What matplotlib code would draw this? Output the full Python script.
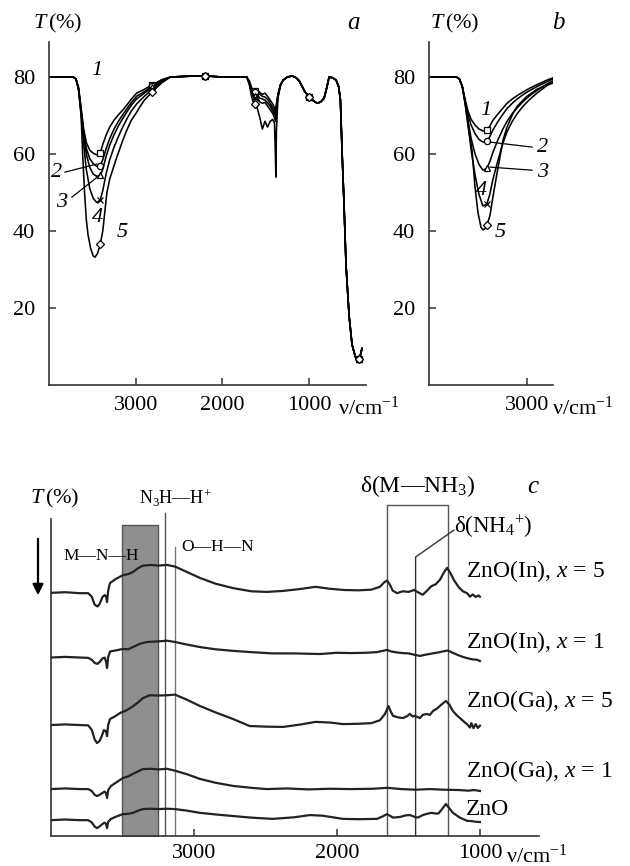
import numpy as np
import matplotlib
matplotlib.use("Agg")
import matplotlib.pyplot as plt

plt.rcParams['font.family'] = ['Liberation Serif', 'DejaVu Serif']
plt.rcParams['mathtext.fontset'] = 'custom'
plt.rcParams['mathtext.rm'] = 'Liberation Serif'
plt.rcParams['mathtext.it'] = 'Liberation Serif:italic'
plt.rcParams['mathtext.bf'] = 'Liberation Serif:bold'

#%% DATA
# panel a: transmission T(%) vs wavenumber, five samples
dip_wn = [4000, 3720, 3690, 3660, 3630, 3600, 3570, 3530, 3490, 3450, 3410, 3380,
          3340, 3300, 3250, 3200, 3150, 3100, 3050, 2990, 2900, 2810, 2700, 2600]
dip_T1 = [80, 80, 79.5, 77.5, 72.0, 66.5, 63.0, 61.0, 60.2, 59.8, 60.3, 62.5,
          65.0, 67.0, 68.8, 70.2, 71.4, 72.8, 74.3, 75.8, 76.8, 78.0, 79.3, 80]
dip_T2 = [80, 80, 79.5, 77.0, 71.5, 65.5, 61.5, 58.8, 57.5, 56.8, 57.0, 58.5,
          61.5, 64.0, 66.5, 68.5, 70.2, 71.8, 73.4, 75.0, 76.2, 77.6, 79.2, 80]
dip_T3 = [80, 80, 79.5, 77.0, 71.0, 64.5, 60.0, 56.5, 54.8, 54.2, 54.5, 56.0,
          59.5, 62.3, 65.0, 67.3, 69.2, 71.0, 72.7, 74.3, 75.8, 77.3, 79.0, 80]
dip_T4 = [80, 80, 79.5, 77.0, 70.5, 62.5, 56.0, 51.0, 48.5, 47.4, 48.0, 50.5,
          55.0, 58.5, 61.8, 64.5, 67.0, 69.2, 71.2, 73.0, 75.0, 76.8, 78.8, 80]
dip_wn5 = [4000, 3720, 3690, 3660, 3630, 3610, 3590, 3570, 3550, 3520, 3490, 3470,
           3440, 3410, 3380, 3333, 3300, 3250, 3218, 3150, 3103, 3050, 2990, 2954,
           2900, 2810, 2700, 2600]
dip_T5 = [80, 80, 79.5, 77.0, 70.0, 59.0, 50.0, 43.0, 39.0, 35.5, 33.5, 33.2,
          34.2, 36.5, 40.0, 49.9, 53.5, 57.0, 59.2, 63.5, 66.2, 68.8, 70.8, 72.2,
          74.0, 76.1, 78.5, 80]

tail_hi_wn = [2400, 2200, 2000, 1800, 1720]
tail_hi_T = [80.2, 80.3, 80.0, 80.0, 80.0]

jag_wn = [1690, 1660, 1630, 1600, 1570, 1540, 1510, 1480, 1450, 1420, 1400, 1390,
          1384, 1378, 1360, 1330]
jag_T = [
    [79.0, 77.0, 76.5, 76.8, 76.0, 75.5, 75.8, 75.0, 74.0, 73.0, 72.0, 71.0, 71.5, 73.0, 75.5, 78.0],
    [78.8, 76.5, 76.0, 76.0, 75.5, 75.0, 74.8, 74.2, 73.2, 72.0, 71.0, 70.5, 70.5, 72.5, 75.5, 78.0],
    [78.5, 76.0, 75.2, 75.5, 74.5, 74.3, 74.0, 73.3, 72.5, 71.2, 70.3, 69.8, 69.5, 72.0, 75.0, 78.0],
    [78.3, 75.5, 74.5, 74.8, 73.5, 73.2, 73.4, 72.5, 71.5, 70.5, 69.5, 68.5, 68.5, 71.5, 75.0, 78.0],
    [78.0, 74.5, 73.0, 72.0, 69.5, 66.5, 68.5, 67.0, 68.5, 69.0, 68.0, 60.0, 54.0, 66.0, 74.5, 78.0],
]

tail_lo_wn = [1300, 1250, 1195, 1150, 1115, 1080, 1050, 1000, 950, 908, 870, 828,
              800, 770, 730, 690, 660, 640, 620, 600, 575, 540, 506, 470, 448, 420, 391]
tail_lo_T = [79.2, 80.0, 80.3, 79.8, 79.0, 77.5, 76.2, 74.8, 73.8, 73.2, 73.5, 74.5,
             77.0, 80.0, 79.8, 79.2, 77.5, 74.0, 60.0, 48.0, 31.0, 18.0, 10.5, 7.5, 6.2, 6.8, 9.5]

marker_wn_a = [3410, 2810, 2200, 1630, 1000, 420]

# panel b: the N-H region on a wider scale
b_wn = [4000, 3720, 3690, 3660, 3630, 3600, 3570, 3530, 3490, 3450, 3410, 3380,
        3347, 3300, 3250, 3204, 3150, 3100, 3041, 2980, 2900, 2796, 2735]
b_T1 = [80, 80, 79.5, 77.5, 74.0, 71.0, 69.0, 67.5, 66.5, 66.0, 66.2, 67.2,
        68.8, 70.3, 71.8, 73.2, 74.3, 75.2, 76.1, 77.0, 78.0, 79.2, 79.8]
b_T2 = [80, 80, 79.5, 77.5, 73.5, 70.0, 67.5, 65.3, 63.8, 63.1, 63.3, 64.5,
        66.3, 68.3, 70.2, 71.8, 73.2, 74.3, 75.4, 76.4, 77.5, 78.8, 79.5]
b_T3 = [80, 80, 79.5, 77.5, 73.3, 68.5, 64.0, 60.0, 57.3, 55.8, 56.3, 58.0,
        60.5, 63.5, 66.3, 68.5, 70.5, 72.0, 73.6, 75.0, 76.5, 78.2, 79.0]
b_T4 = [80, 80, 79.5, 77.5, 73.0, 67.5, 61.0, 54.5, 49.5, 46.5, 47.0, 49.5,
        53.5, 58.0, 62.5, 65.8, 68.5, 70.5, 72.4, 74.0, 75.8, 77.8, 78.6]
b_wn5 = [4000, 3720, 3690, 3660, 3630, 3600, 3561, 3531, 3500, 3470, 3449, 3420,
         3410, 3378, 3347, 3306, 3245, 3204, 3143, 3100, 3041, 3000, 2900, 2796, 2735]
b_T5 = [80, 80, 79.5, 77.5, 72.8, 67.0, 61.0, 51.5, 44.7, 41.0, 40.3, 40.8,
        41.5, 44.0, 49.0, 55.0, 63.6, 67.0, 70.6, 72.4, 74.0, 75.0, 76.8, 78.0, 78.4]

marker_wn_b = [3410]

# panel c: difference spectra, arbitrary offsets
c_names = ['ZnO(In), $x$ = 5', 'ZnO(In), $x$ = 1', 'ZnO(Ga), $x$ = 5',
           'ZnO(Ga), $x$ = 1', 'ZnO']
in5_wn = [4000, 3900, 3800, 3740, 3715, 3695, 3675, 3660, 3640, 3625, 3615, 3608,
          3600, 3587, 3550, 3497, 3460, 3427, 3390, 3357, 3300, 3250, 3189, 3133,
          3050, 2958, 2850, 2727, 2600, 2490, 2380, 2259, 2150, 2050, 1950, 1850,
          1760, 1700, 1670, 1650, 1630, 1610, 1580, 1540, 1500, 1460, 1430, 1400,
          1370, 1340, 1310, 1280, 1250, 1230, 1210, 1180, 1150, 1120, 1090, 1070,
          1050, 1030, 1010, 1000]
in5_u = [76.7, 76.9, 76.6, 76.6, 75.5, 73.0, 72.4, 73.2, 75.4, 76.0, 75.6, 73.8,
         77.5, 79.8, 81.0, 82.3, 82.6, 83.3, 84.5, 85.3, 85.5, 85.3, 85.5, 85.0,
         83.3, 81.4, 79.6, 78.2, 77.2, 77.0, 77.3, 77.9, 78.6, 78.0, 77.6, 77.5,
         77.7, 78.6, 80.0, 80.6, 79.3, 77.4, 76.6, 77.2, 77.0, 77.6, 76.8, 76.1,
         77.4, 78.8, 79.4, 80.8, 83.3, 84.6, 83.2, 80.6, 78.6, 77.2, 76.6, 75.5,
         76.2, 75.4, 75.9, 75.5]

in1_wn = [4000, 3900, 3800, 3740, 3715, 3695, 3675, 3660, 3640, 3625, 3615, 3608,
          3600, 3587, 3540, 3497, 3460, 3427, 3380, 3329, 3250, 3189, 3133, 3050,
          2958, 2850, 2727, 2600, 2450, 2300, 2119, 2000, 1900, 1800, 1720, 1680,
          1650, 1620, 1580, 1540, 1500, 1460, 1420, 1380, 1330, 1280, 1240, 1225,
          1200, 1160, 1120, 1080, 1050, 1020, 1000]
in1_u = [56.3, 56.5, 56.3, 56.2, 55.6, 54.6, 54.3, 54.9, 56.0, 56.3, 55.0, 53.0,
         56.5, 58.2, 58.6, 59.0, 58.9, 59.6, 60.6, 61.2, 61.4, 61.6, 61.2, 60.4,
         59.6, 58.9, 58.4, 58.0, 57.6, 57.6, 57.4, 57.8, 57.7, 57.8, 58.0, 58.4,
         58.7, 58.2, 57.9, 57.7, 57.6, 57.2, 56.8, 57.2, 57.6, 58.0, 58.4, 58.5,
         58.0, 57.2, 56.5, 56.0, 55.7, 55.6, 55.2]

ga5_wn = [4000, 3900, 3800, 3740, 3715, 3695, 3678, 3660, 3645, 3630, 3615, 3608,
          3600, 3587, 3550, 3517, 3470, 3427, 3390, 3357, 3310, 3250, 3189, 3133,
          3050, 2958, 2850, 2727, 2611, 2500, 2378, 2250, 2150, 2050, 1958, 1850,
          1760, 1700, 1664, 1640, 1625, 1608, 1570, 1538, 1510, 1490, 1470, 1455,
          1420, 1400, 1374, 1350, 1329, 1300, 1281, 1255, 1238, 1215, 1189, 1160,
          1140, 1110, 1091, 1070, 1060, 1045, 1030, 1015, 1000]
ga5_u = [35.0, 35.2, 35.0, 34.9, 33.5, 30.5, 29.3, 30.0, 31.5, 33.4, 33.0, 31.5,
         35.0, 36.9, 37.8, 38.8, 39.7, 40.9, 42.2, 43.5, 44.4, 44.3, 44.4, 44.6,
         43.0, 41.0, 39.0, 36.9, 34.7, 34.5, 34.4, 35.2, 36.0, 35.8, 35.3, 35.4,
         35.6, 36.5, 38.5, 41.0, 39.4, 37.9, 37.4, 37.2, 37.8, 38.5, 37.7, 37.9,
         37.2, 38.2, 38.5, 38.2, 39.4, 40.2, 41.0, 42.0, 42.6, 41.5, 39.4, 38.0,
         37.2, 36.0, 35.3, 34.2, 35.6, 34.0, 35.3, 34.1, 34.8]

ga1_wn = [4000, 3900, 3800, 3740, 3715, 3695, 3678, 3660, 3640, 3625, 3615, 3608,
          3600, 3580, 3540, 3497, 3460, 3427, 3390, 3357, 3300, 3250, 3189, 3133,
          3050, 2958, 2850, 2727, 2600, 2490, 2350, 2200, 2050, 1900, 1750, 1650,
          1550, 1450, 1350, 1250, 1150, 1080, 1040, 1000]
ga1_u = [14.8, 15.0, 14.8, 14.8, 14.2, 13.0, 12.6, 13.0, 13.6, 14.0, 13.5, 12.0,
         14.5, 15.8, 17.0, 18.3, 18.8, 19.6, 20.4, 21.1, 21.2, 21.0, 21.2, 20.6,
         19.5, 18.0, 16.8, 15.8, 15.2, 14.8, 15.0, 14.7, 14.9, 14.8, 14.9, 15.2,
         14.8, 14.6, 14.8, 14.6, 14.5, 14.3, 14.5, 14.2]

zno_wn = [4000, 3900, 3800, 3740, 3715, 3695, 3678, 3660, 3640, 3625, 3615, 3608,
          3600, 3580, 3540, 3497, 3460, 3427, 3390, 3357, 3300, 3250, 3189, 3133,
          3050, 2958, 2850, 2727, 2600, 2450, 2300, 2189, 2100, 1958, 1850, 1720,
          1680, 1650, 1630, 1608, 1560, 1520, 1490, 1460, 1440, 1420, 1400, 1370,
          1340, 1310, 1290, 1265, 1238, 1215, 1189, 1160, 1140, 1110, 1091, 1060,
          1030, 1000]
zno_u = [5.0, 5.2, 5.0, 5.0, 4.3, 3.0, 2.5, 3.0, 3.8, 4.2, 3.8, 2.5,
         4.5, 5.4, 6.2, 6.9, 7.0, 7.3, 8.0, 8.5, 8.6, 8.5, 8.6, 8.5,
         8.0, 7.3, 6.8, 6.3, 5.8, 5.4, 5.9, 6.6, 6.4, 5.4, 5.3, 5.4,
         6.2, 6.9, 6.4, 5.8, 6.0, 6.5, 6.6, 6.1, 5.8, 6.1, 6.6, 7.0,
         7.3, 7.1, 7.1, 8.5, 10.1, 8.8, 7.3, 6.4, 5.8, 5.2, 4.8, 4.7,
         4.5, 4.4]

c_label_u = [83.6, 61.2, 42.6, 20.5, 8.5]

# band assignments
mnh_band = (3500, 3250)
n3h_wn, ohn_wn = 3200, 3130
delta_box = (1650, 1225)
nh4_wn = 1450

#%% PLOT
W, H = 630, 866
fig = plt.figure(figsize=(W / 100, H / 100), dpi=100)

def px_axes(x0, y0, x1, y1):
    return fig.add_axes([x0 / W, 1 - y1 / H, (x1 - x0) / W, (y1 - y0) / H])

def style_axes(ax, xpad, ypad):
    for s in ('top', 'right'):
        ax.spines[s].set_visible(False)
    for s in ('left', 'bottom'):
        ax.spines[s].set_linewidth(1.2)
        ax.spines[s].set_color('#333333')
    ax.tick_params(direction='in', length=5, width=1.1, color='#333333',
                   labelsize=16)
    ax.tick_params(axis='x', pad=xpad)
    ax.tick_params(axis='y', pad=ypad)

lw_a = 1.15
marks = ['s', 'o', '^', 'x', 'D']

# ---- panel a
ax_a = px_axes(49, 42, 366, 385)
dips = [(dip_wn, dip_T1), (dip_wn, dip_T2), (dip_wn, dip_T3), (dip_wn, dip_T4),
        (dip_wn5, dip_T5)]
for i, (wn, T) in enumerate(dips):
    x = np.array(wn + tail_hi_wn + jag_wn + tail_lo_wn)
    y = np.array(T + tail_hi_T + jag_T[i] + tail_lo_T)
    ax_a.plot(x, y, color='black', lw=lw_a)
    sel = np.isin(x, marker_wn_a)
    ax_a.plot(x[sel], y[sel], ls='none', marker=marks[i], ms=4.5,
              mfc='white', mec='black', mew=0.9)
ax_a.set_xlim(4000, 345)
ax_a.set_ylim(0, 89.1)
ax_a.set_xticks([3000, 2000, 1000])
ax_a.set_yticks([20, 40, 60, 80])
style_axes(ax_a, 8, 10)

fs = 16
ax_a.text(3448, 81.6, '1', fontsize=fs, style='italic', ha='center', va='center')
ax_a.text(3908, 55.1, '2', fontsize=fs, style='italic', ha='center', va='center')
ax_a.plot([3816, 3448], [55.3, 57.4], color='black', lw=0.9)
ax_a.text(3851, 47.5, '3', fontsize=fs, style='italic', ha='center', va='center')
ax_a.plot([3736, 3414], [48.8, 54.5], color='black', lw=0.9)
ax_a.text(3437, 43.4, '4', fontsize=fs, style='italic', ha='center', va='center')
ax_a.text(3161, 39.7, '5', fontsize=fs, style='italic', ha='center', va='center')

# ---- panel b
ax_b = px_axes(429, 42, 553, 385)
b_curves = [(b_wn, b_T1), (b_wn, b_T2), (b_wn, b_T3), (b_wn, b_T4), (b_wn5, b_T5)]
for i, (wn, T) in enumerate(b_curves):
    x = np.array(wn)
    y = np.array(T)
    ax_b.plot(x, y, color='black', lw=lw_a)
    sel = np.isin(x, marker_wn_b)
    ax_b.plot(x[sel], y[sel], ls='none', marker=marks[i], ms=4.5,
              mfc='white', mec='black', mew=0.9)
ax_b.set_xlim(4000, 2735)
ax_b.set_ylim(0, 89.1)
ax_b.set_xticks([3000])
ax_b.set_yticks([20, 40, 60, 80])
style_axes(ax_b, 8, 10)

ax_b.text(3418, 71.4, '1', fontsize=fs, style='italic', ha='center', va='center')
ax_b.text(2837, 61.8, '2', fontsize=fs, style='italic', ha='center', va='center')
ax_b.plot([3378, 2949], [63.1, 61.8], color='black', lw=0.9)
ax_b.text(2837, 55.1, '3', fontsize=fs, style='italic', ha='center', va='center')
ax_b.plot([3378, 2949], [56.6, 55.8], color='black', lw=0.9)
ax_b.text(3469, 50.6, '4', fontsize=fs, style='italic', ha='center', va='center')
ax_b.text(3276, 39.5, '5', fontsize=fs, style='italic', ha='center', va='center')

# headers and axis titles of a and b
fig.text(33 / W, 1 - 23 / H, r'$T\,$(%)', fontsize=16, va='center')
fig.text(353 / W, 1 - 23 / H, 'a', fontsize=18, style='italic', va='center', ha='center')
fig.text(430 / W, 1 - 23 / H, r'$T\,$(%)', fontsize=16, va='center')
fig.text(558 / W, 1 - 23 / H, 'b', fontsize=18, style='italic', va='center', ha='center')
fig.text(338 / W, 1 - 408 / H, r'ν/cm$^{-1}$', fontsize=16, va='center')
fig.text(552 / W, 1 - 408 / H, r'ν/cm$^{-1}$', fontsize=16, va='center')

# ---- panel c
ax_c = px_axes(51, 480, 539, 836)
ax_c.set_xlim(4000, 587)
ax_c.set_ylim(0, 112.3)
style_axes(ax_c, 6, 6)
ax_c.spines['left'].set_bounds(0, 100)
ax_c.set_xticks([3000, 2000, 1000])
ax_c.set_yticks([])

ax_c.fill_between(list(mnh_band), 0, 98.1, facecolor='#8f8f8f',
                  edgecolor='#555555', lw=1.0, zorder=1)
ax_c.plot([n3h_wn, n3h_wn], [0, 101.9], color='#555555', lw=1.0, zorder=1)
ax_c.plot([ohn_wn, ohn_wn], [0, 91.2], color='#777777', lw=1.0, zorder=1)
ax_c.plot([delta_box[0], delta_box[0], delta_box[1], delta_box[1]],
          [0, 104.4, 104.4, 0], color='#555555', lw=1.0, zorder=1)
ax_c.plot([nh4_wn, nh4_wn, 1182], [0, 88.0, 96.5], color='#333333', lw=1.0, zorder=1)

spectra = [(in5_wn, in5_u), (in1_wn, in1_u), (ga5_wn, ga5_u),
           (ga1_wn, ga1_u), (zno_wn, zno_u)]
for (wn, u), name, lu in zip(spectra, c_names, c_label_u):
    ax_c.plot(wn, u, color='#222222', lw=1.6, zorder=3)
    ax_c.text(1098, lu, name, fontsize=17, va='center', ha='left', zorder=4)

ax_c.text(3133, 106.6, r'N$_3$H—H$^{+}$', fontsize=13, ha='center', va='center')
ax_c.text(3650, 88.3, 'M—N—H', fontsize=12.5, ha='center', va='center', zorder=5)
ax_c.text(2832, 91.2, 'O—H—N', fontsize=12.5, ha='center', va='center')
ax_c.text(1434, 110.4, r'δ(M—NH$_3$)', fontsize=17, ha='center', va='center')
ax_c.text(1180, 97.5, r'δ(NH$_4$$^{+}$)', fontsize=16.5, ha='left', va='center')
ax_c.text(629, 110.0, 'c', fontsize=18, style='italic', ha='center', va='center')

fig.text(30 / W, 1 - 498 / H, r'$T\,$(%)', fontsize=16, va='center')
fig.text(506 / W, 1 - 856 / H, r'ν/cm$^{-1}$', fontsize=16, va='center')
ax_c.annotate('', xy=(38 / W, 1 - 598 / H), xytext=(38 / W, 1 - 536 / H),
              xycoords='figure fraction', textcoords='figure fraction',
              arrowprops=dict(arrowstyle='-|>', lw=1.6, color='black',
                              mutation_scale=16))

fig.savefig('out.png', dpi=100)
